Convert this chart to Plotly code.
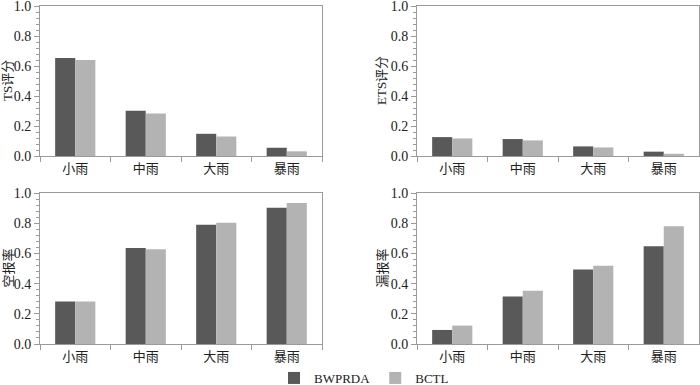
import plotly.graph_objects as go
from plotly.subplots import make_subplots

categories = ["小雨", "中雨", "大雨", "暴雨"]
series_names = ["BWPRDA", "BCTL"]

ts_bwprda = [0.653, 0.302, 0.148, 0.055]
ts_bctl = [0.640, 0.283, 0.130, 0.031]
ets_bwprda = [0.126, 0.113, 0.064, 0.029]
ets_bctl = [0.117, 0.104, 0.057, 0.015]
far_bwprda = [0.281, 0.635, 0.790, 0.903]
far_bctl = [0.281, 0.628, 0.803, 0.934]
mar_bwprda = [0.093, 0.314, 0.493, 0.648]
mar_bctl = [0.122, 0.352, 0.518, 0.779]

panel_titles = ["TS评分", "ETS评分", "空报率", "漏报率"]
y_ticks = [0.0, 0.2, 0.4, 0.6, 0.8, 1.0]
y_tick_labels = ["0.0", "0.2", "0.4", "0.6", "0.8", "1.0"]

colors = ["#595959", "#b3b3b3"]
FONT = "Liberation Serif, Noto Sans CJK SC, serif"

fig = make_subplots(rows=2, cols=2)
panels = [
    (1, 1, ts_bwprda, ts_bctl),
    (1, 2, ets_bwprda, ets_bctl),
    (2, 1, far_bwprda, far_bctl),
    (2, 2, mar_bwprda, mar_bctl),
]
for i, (r, c, a, b) in enumerate(panels):
    for j, vals in enumerate([a, b]):
        fig.add_trace(go.Bar(x=categories, y=vals, name=series_names[j],
                             marker=dict(color=colors[j], line=dict(width=0)),
                             showlegend=(i == 0)), row=r, col=c)

W, H = 700, 385
xdoms = [[40 / W, 322 / W], [417 / W, 699 / W]]
ydoms = [[1 - 156 / H, 1 - 6 / H], [1 - 344 / H, 1 - 193 / H]]
title_x = [8 / W, 382 / W]

axis_color = "#9a9a9a"
for i, (r, c, _, _) in enumerate(panels):
    fig.update_xaxes(domain=xdoms[c - 1], row=r, col=c, automargin=False,
                     showline=True, linecolor=axis_color, linewidth=1, mirror=True,
                     ticks="outside", tickson="boundaries", ticklen=5, tickcolor=axis_color,
                     tickfont=dict(family=FONT, size=13, color="#222"),
                     showgrid=False, zeroline=False)
    fig.update_yaxes(domain=ydoms[r - 1], row=r, col=c, range=[0, 1], automargin=False,
                     tickvals=y_ticks, ticktext=y_tick_labels, ticklabeloverflow="allow",
                     showline=True, linecolor=axis_color, linewidth=1, mirror=True,
                     ticks="outside", ticklen=5, tickcolor=axis_color,
                     minor=dict(dtick=0.04, ticks="outside", ticklen=3, tickcolor=axis_color),
                     tickfont=dict(family=FONT, size=14, color="#222"),
                     showgrid=False, zeroline=False)
    dom = ydoms[r - 1]
    fig.add_annotation(text=panel_titles[i], xref="paper", yref="paper",
                       x=title_x[c - 1], y=(dom[0] + dom[1]) / 2, textangle=-90,
                       showarrow=False, xanchor="center", yanchor="middle",
                       font=dict(family=FONT, size=13, color="#222"))

fig.update_layout(
    width=W, height=H,
    margin=dict(l=0, r=0, t=0, b=0, autoexpand=False),
    plot_bgcolor="white", paper_bgcolor="white",
    barmode="group", bargap=0.43, bargroupgap=0,
    font=dict(family=FONT, size=13, color="#222"),
    legend=dict(orientation="h", x=274 / W, y=1 - 363 / H, xanchor="left", yanchor="top",
                font=dict(family=FONT, size=13, color="#222"),
                itemwidth=30, tracegroupgap=0, bgcolor="rgba(0,0,0,0)"),
)

fig.write_html("out.html", config={"displayModeBar": False},
               post_script="document.body.style.margin='0';document.body.style.overflow='hidden';")
